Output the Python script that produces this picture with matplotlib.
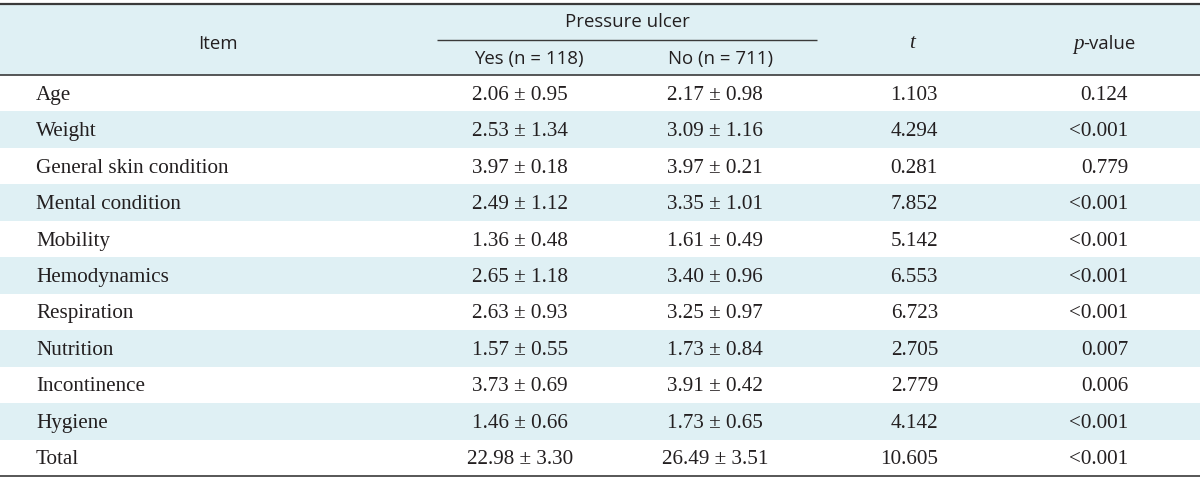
import matplotlib
matplotlib.use("Agg")
import matplotlib.pyplot as plt
from matplotlib.patches import Rectangle

items = ["Age", "Weight", "General skin condition", "Mental condition", "Mobility",
         "Hemodynamics", "Respiration", "Nutrition", "Incontinence", "Hygiene", "Total"]
yes_vals = ["2.06 ± 0.95", "2.53 ± 1.34", "3.97 ± 0.18", "2.49 ± 1.12", "1.36 ± 0.48",
            "2.65 ± 1.18", "2.63 ± 0.93", "1.57 ± 0.55", "3.73 ± 0.69", "1.46 ± 0.66", "22.98 ± 3.30"]
no_vals = ["2.17 ± 0.98", "3.09 ± 1.16", "3.97 ± 0.21", "3.35 ± 1.01", "1.61 ± 0.49",
           "3.40 ± 0.96", "3.25 ± 0.97", "1.73 ± 0.84", "3.91 ± 0.42", "1.73 ± 0.65", "26.49 ± 3.51"]
t_vals = ["1.103", "4.294", "0.281", "7.852", "5.142", "6.553", "6.723", "2.705", "2.779", "4.142", "10.605"]
p_vals = ["0.124", "<0.001", "0.779", "<0.001", "<0.001", "<0.001", "<0.001", "0.007", "0.006", "<0.001", "<0.001"]

header_group = "Pressure ulcer"
header_yes = "Yes (n = 118)"
header_no = "No (n = 711)"

W, H = 1200, 481
fig = plt.figure(figsize=(W / 100, H / 100), dpi=100)
ax = fig.add_axes([0, 0, 1, 1])
ax.set_xlim(0, W)
ax.set_ylim(H, 0)
ax.axis("off")

bg = "#dff0f4"
line_c = "#3a3a3a"
txt_c = "#231f20"
serif = ["Liberation Serif", "DejaVu Serif"]
sans = ["Open Sans", "DejaVu Sans"]
fs_body = 15.2
fs_head = 13.4

top, head_bot, bottom = 5, 76, 477
row_h = (bottom - head_bot) / len(items)

# header background
ax.add_patch(Rectangle((0, top), W, head_bot - top, facecolor=bg, edgecolor="none"))
# striped rows
for i in range(len(items)):
    if i % 2 == 1:
        ax.add_patch(Rectangle((0, head_bot + i * row_h), W, row_h, facecolor=bg, edgecolor="none"))

# lines
ax.plot([0, W], [top, top], color=line_c, lw=1.6, solid_capstyle="butt")
ax.plot([0, W], [head_bot, head_bot], color=line_c, lw=1.2, solid_capstyle="butt")
ax.plot([0, W], [bottom, bottom], color=line_c, lw=1.2, solid_capstyle="butt")
ax.plot([437, 817], [41, 41], color=line_c, lw=1.0, solid_capstyle="butt")

# header text
ax.text(218, 44, "Item", ha="center", va="center", fontsize=fs_head, family=sans, color=txt_c)
ax.text(627, 22, header_group, ha="center", va="center", fontsize=fs_head, family=sans, color=txt_c)
ax.text(529, 59, header_yes, ha="center", va="center", fontsize=fs_head, family=sans, color=txt_c)
ax.text(721, 59, header_no, ha="center", va="center", fontsize=fs_head, family=sans, color=txt_c)
ax.text(912, 44, "t", ha="center", va="center", fontsize=fs_body, family=serif, style="italic", color=txt_c)
ax.text(1084, 44, "p", ha="right", va="center", fontsize=fs_body, family=serif, style="italic", color=txt_c)
ax.text(1083, 44, "-value", ha="left", va="center", fontsize=fs_head, family=sans, color=txt_c)

# body
for i, (it, y1, n1, t, p) in enumerate(zip(items, yes_vals, no_vals, t_vals, p_vals)):
    yc = head_bot + (i + 0.5) * row_h + 1
    ax.text(36, yc, it, ha="left", va="center", fontsize=fs_body, family=serif, color=txt_c)
    ax.text(520, yc, y1, ha="center", va="center", fontsize=fs_body, family=serif, color=txt_c)
    ax.text(715, yc, n1, ha="center", va="center", fontsize=fs_body, family=serif, color=txt_c)
    ax.text(938, yc, t, ha="right", va="center", fontsize=fs_body, family=serif, color=txt_c)
    ax.text(1128, yc, p, ha="right", va="center", fontsize=fs_body, family=serif, color=txt_c)

fig.savefig("out.png", dpi=100, facecolor="white")
